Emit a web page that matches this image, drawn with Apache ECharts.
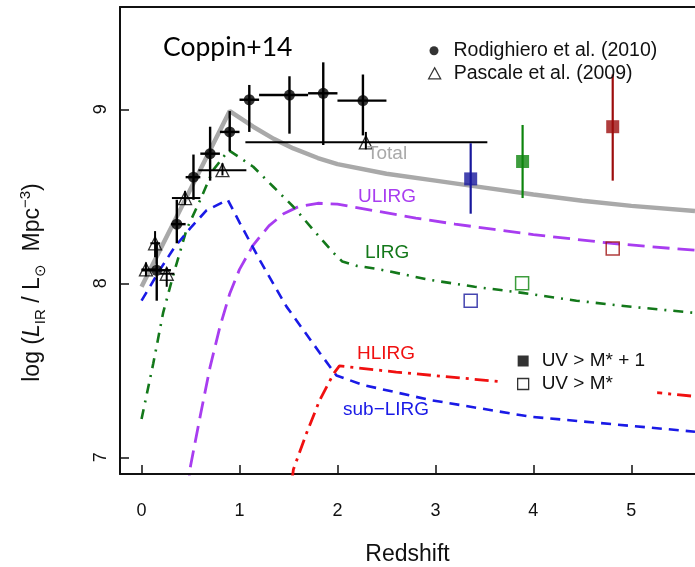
<!DOCTYPE html>
<html>
<head>
<meta charset="utf-8">
<script src="https://cdn.jsdelivr.net/npm/echarts@6/dist/echarts.min.js"></script>
<style>
  html, body { margin: 0; padding: 0; background: #fff; }
  #chart { width: 695px; height: 567px; }
</style>
</head>
<body>
<div id="chart"></div>
<script>
// tick positions
const xTicks = [0, 1, 2, 3, 4, 5];
const yTicks = [7, 8, 9];

// Rodighiero et al. (2010): [z, logL, zLo, zHi, logLLo, logLHi]
const rodighiero = [
  [0.155, 8.075, 0.0, 0.3, 7.90, 8.24],
  [0.36, 8.34, 0.3, 0.45, 8.23, 8.48],
  [0.53, 8.61, 0.45, 0.6, 8.48, 8.74],
  [0.70, 8.745, 0.6, 0.8, 8.59, 8.90],
  [0.90, 8.87, 0.8, 1.0, 8.76, 8.99],
  [1.10, 9.055, 1.0, 1.2, 8.87, 9.14],
  [1.51, 9.082, 1.2, 1.7, 8.86, 9.19],
  [1.855, 9.092, 1.7, 2.0, 8.795, 9.27],
  [2.26, 9.05, 2.0, 2.5, 8.85, 9.20]
];

// Pascale et al. (2009): [z, logL, zLo, zHi, logLLo, logLHi]
const pascale = [
  [0.045, 8.08, 0.0, 0.17, 8.04, 8.12],
  [0.138, 8.23, 0.09, 0.19, 8.15, 8.30],
  [0.257, 8.055, 0.19, 0.335, 7.98, 8.09],
  [0.444, 8.49, 0.31, 0.6, 8.45, 8.53],
  [0.826, 8.65, 0.58, 1.07, 8.62, 8.69],
  [2.29, 8.81, 1.06, 3.53, 8.77, 8.87]
];

// UV > M* + 1 : [z, logL, logLLo, logLHi]
const uvBright = [
  [3.36, 8.60, 8.40, 8.805],
  [3.89, 8.70, 8.49, 8.91],
  [4.81, 8.90, 8.59, 9.20]
];
// UV > M* : [z, logL]
const uvFaint = [
  [3.36, 7.90],
  [3.885, 8.00],
  [4.81, 8.20]
];

// model curves [z, logL]
const totalCurve = [
  [0, 7.98], [0.9, 8.99], [1.14, 8.90], [1.35, 8.83], [1.55, 8.775], [1.8, 8.72],
  [2.0, 8.685], [2.5, 8.63], [3.0, 8.59], [3.5, 8.55], [4.0, 8.51], [4.5, 8.475],
  [5.0, 8.445], [5.65, 8.415]
];
const ulirgCurve = [
  [0.47, 6.80], [0.5, 6.95], [0.6, 7.24], [0.7, 7.52], [0.8, 7.75], [0.9, 7.94],
  [1.0, 8.08], [1.14, 8.22], [1.3, 8.33], [1.45, 8.40], [1.6, 8.44], [1.8, 8.46],
  [2.0, 8.455], [2.4, 8.415], [2.8, 8.375], [3.2, 8.34], [3.6, 8.31], [4.0, 8.28],
  [4.4, 8.255], [4.8, 8.23], [5.2, 8.21], [5.65, 8.19]
];
const lirgCurve = [
  [0, 7.22], [0.12, 7.54], [0.22, 7.83], [0.325, 8.05], [0.46, 8.31], [0.6, 8.48],
  [0.73, 8.65], [0.89, 8.765], [1.14, 8.67], [1.345, 8.555], [1.55, 8.44],
  [1.755, 8.306], [1.96, 8.175], [2.05, 8.125], [2.2, 8.10], [2.43, 8.08],
  [2.94, 8.02], [3.4, 7.98], [3.89, 7.945], [4.44, 7.90], [5.0, 7.865], [5.65, 7.83]
];
const subLirgCurve = [
  [0, 7.90], [0.19, 8.08], [0.34, 8.21], [0.51, 8.325], [0.665, 8.42], [0.88, 8.48],
  [1.005, 8.345], [1.21, 8.13], [1.48, 7.866], [1.82, 7.60], [1.99, 7.47],
  [2.26, 7.416], [2.94, 7.33], [3.96, 7.234], [5.65, 7.147]
];
const hlirgCurve = [
  [1.5, 6.70], [1.55, 6.93], [1.685, 7.14], [1.82, 7.33], [1.96, 7.48], [2.02, 7.525],
  [2.6, 7.49], [3.66, 7.435], [5.29, 7.37], [5.65, 7.35]
];

const binColors = ['#17179c', '#0c840c', '#9c0c0c'];
const font = 'Liberation Sans, Arial, sans-serif';

const chart = echarts.init(document.getElementById('chart'));

function errorBars(name, data, color, width) {
  return {
    type: 'custom',
    name: name,
    data: data,
    silent: true,
    z: 3,
    encode: { x: [0, 2, 3], y: [1, 4, 5] },
    renderItem: (params, api) => {
      const z = api.value(0), y = api.value(1);
      const a = api.coord([z, api.value(4)]);
      const b = api.coord([z, api.value(5)]);
      const c = api.coord([api.value(2), y]);
      const d = api.coord([api.value(3), y]);
      const style = { stroke: color, lineWidth: width };
      return {
        type: 'group',
        children: [
          { type: 'line', shape: { x1: a[0], y1: a[1], x2: b[0], y2: b[1] }, style: style },
          { type: 'line', shape: { x1: c[0], y1: c[1], x2: d[0], y2: d[1] }, style: style }
        ]
      };
    }
  };
}

function curve(name, data, color, width, dash) {
  return {
    type: 'line',
    name: name,
    data: data,
    showSymbol: false,
    symbol: 'none',
    silent: true,
    z: 2,
    lineStyle: { color: color, width: width, type: dash }
  };
}

function curveLabel(text, x, y, color) {
  return {
    type: 'text', x: x, y: y, z: 10,
    style: { text: text, fill: color, fontSize: 19, fontFamily: font, align: 'left', verticalAlign: 'middle' }
  };
}

const option = {
  animation: false,
  backgroundColor: '#fff',
  grid: { left: 120, right: 0, top: 7, bottom: 93, outerBoundsMode: 'none', containLabel: false },
  xAxis: [
    {
      type: 'value', min: -0.22, max: 5.65,
      axisLine: { show: true, onZero: false, lineStyle: { color: '#111', width: 2 } },
      axisTick: { show: true, inside: true, length: 9, customValues: xTicks, lineStyle: { color: '#111', width: 1.5 } },
      axisLabel: { customValues: xTicks, margin: 28, fontSize: 18, color: '#111', fontFamily: font },
      splitLine: { show: false },
      name: 'Redshift', nameLocation: 'middle', nameGap: 69,
      nameTextStyle: { fontSize: 23, color: '#111', fontFamily: font }
    },
    {
      type: 'value', position: 'top', min: -0.22, max: 5.65,
      axisLine: { show: true, onZero: false, lineStyle: { color: '#111', width: 2 } },
      axisTick: { show: false }, axisLabel: { show: false }, splitLine: { show: false }
    }
  ],
  yAxis: {
    type: 'value', min: 6.904, max: 9.588,
    axisLine: { show: true, onZero: false, lineStyle: { color: '#111', width: 2 } },
    axisTick: { show: true, inside: true, length: 9, customValues: yTicks, lineStyle: { color: '#111', width: 1.5 } },
    axisLabel: { customValues: yTicks, rotate: 90, margin: 10, fontSize: 18, color: '#111', fontFamily: font },
    splitLine: { show: false },
    name: '{a|log (}{i|L}{b|IR}{a| / L}{b|⊙}{a|  Mpc}{c|−3}{a|)}',
    nameLocation: 'middle', nameRotate: 90, nameGap: 72,
    nameTextStyle: {
      color: '#111', fontFamily: font, padding: [0, 84, 0, 0],
      rich: {
        a: { fontSize: 23, lineHeight: 30, fontFamily: font, color: '#111' },
        i: { fontSize: 23, lineHeight: 30, fontStyle: 'italic', fontFamily: font, color: '#111' },
        b: { fontSize: 15, lineHeight: 14, verticalAlign: 'bottom', fontFamily: font, color: '#111' },
        c: { fontSize: 15, lineHeight: 14, verticalAlign: 'top', fontFamily: font, color: '#111' }
      }
    }
  },
  legend: [
    {
      left: 429.5, top: 40.7, padding: 0, itemWidth: 9, itemHeight: 9, selectedMode: false,
      textStyle: { fontSize: 19.5, fontFamily: font, color: '#111', lineHeight: 20, padding: [0, 0, 0, 10] },
      data: [{ name: 'Rodighiero et al. (2010)', icon: 'circle', itemStyle: { color: '#000' } }]
    },
    {
      left: 428, top: 63.3, padding: 0, itemWidth: 12, itemHeight: 11, selectedMode: false,
      textStyle: { fontSize: 19.5, fontFamily: font, color: '#111', lineHeight: 20, padding: [0, 0, 0, 8] },
      data: [{ name: 'Pascale et al. (2009)', icon: 'triangle', itemStyle: { color: '#fff', borderColor: '#000', borderWidth: 1.3 } }]
    },
    {
      left: 502, top: 347, orient: 'vertical', padding: [4, 12, 4, 15], itemGap: 3,
      itemWidth: 11, itemHeight: 11, selectedMode: false, backgroundColor: '#fff',
      textStyle: { fontSize: 19, fontFamily: font, color: '#111', lineHeight: 20, padding: [0, 0, 0, 8] },
      data: [
        { name: 'UV > M* + 1', icon: 'rect', itemStyle: { color: '#000' } },
        { name: 'UV > M*', icon: 'rect', itemStyle: { color: '#fff', borderColor: '#000', borderWidth: 1.3 } }
      ]
    }
  ],
  graphic: [
    {
      type: 'text', x: 163, y: 47, z: 10,
      style: { text: 'Coppin+14', fill: '#000', fontSize: 26.5, fontFamily: 'Lato, Open Sans, sans-serif', align: 'left', verticalAlign: 'middle' }
    },
    curveLabel('Total', 367, 154, '#a9a9a9'),
    curveLabel('ULIRG', 358, 197, '#a83df0'),
    curveLabel('LIRG', 365, 253, '#13781a'),
    curveLabel('HLIRG', 357, 354, '#f01010'),
    curveLabel('sub\u2212LIRG', 343, 410, '#1a1ae6')
  ],
  series: [
    curve('Total', totalCurve, '#a9a9a9', 4.5, 'solid'),
    curve('ULIRG', ulirgCurve, '#a83df0', 2.8, [17, 8]),
    curve('LIRG', lirgCurve, '#13781a', 2.6, [10, 7, 2, 7]),
    curve('sub-LIRG', subLirgCurve, '#1a1ae6', 2.6, [10, 7]),
    curve('HLIRG', hlirgCurve, '#f01010', 2.8, [14, 6, 3, 6]),
    errorBars('rodighiero-err', rodighiero, '#000', 2.4),
    errorBars('pascale-err', pascale, '#000', 2),
    {
      type: 'custom',
      name: 'uv-err',
      data: uvBright,
      silent: true,
      z: 3,
      encode: { x: 0, y: [1, 2, 3] },
      renderItem: (params, api) => {
        const z = api.value(0);
        const a = api.coord([z, api.value(2)]);
        const b = api.coord([z, api.value(3)]);
        return {
          type: 'line', shape: { x1: a[0], y1: a[1], x2: b[0], y2: b[1] },
          style: { stroke: binColors[params.dataIndex], lineWidth: 2.2 }
        };
      }
    },
    {
      type: 'scatter', name: 'Rodighiero et al. (2010)', symbol: 'circle', symbolSize: 11, z: 4,
      itemStyle: { color: '#000' },
      data: rodighiero.map(p => [p[0], p[1]])
    },
    {
      type: 'scatter', name: 'Pascale et al. (2009)', symbol: 'triangle', symbolSize: 13, z: 4,
      itemStyle: { color: 'rgba(0,0,0,0)', borderColor: '#000', borderWidth: 1.3 },
      data: pascale.map(p => [p[0], p[1]])
    },
    {
      type: 'scatter', name: 'UV > M* + 1', symbol: 'rect', symbolSize: 13, z: 4,
      itemStyle: { color: '#000' },
      data: uvBright.map((p, i) => ({ value: [p[0], p[1]], itemStyle: { color: binColors[i] } }))
    },
    {
      type: 'scatter', name: 'UV > M*', symbol: 'rect', symbolSize: 13, z: 4,
      itemStyle: { color: 'rgba(0,0,0,0)', borderColor: '#000', borderWidth: 1.5 },
      data: uvFaint.map((p, i) => ({ value: p, itemStyle: { color: 'rgba(0,0,0,0)', borderColor: binColors[i], borderWidth: 1.5 } }))
    }
  ]
};

chart.setOption(option);
</script>
</body>
</html>
